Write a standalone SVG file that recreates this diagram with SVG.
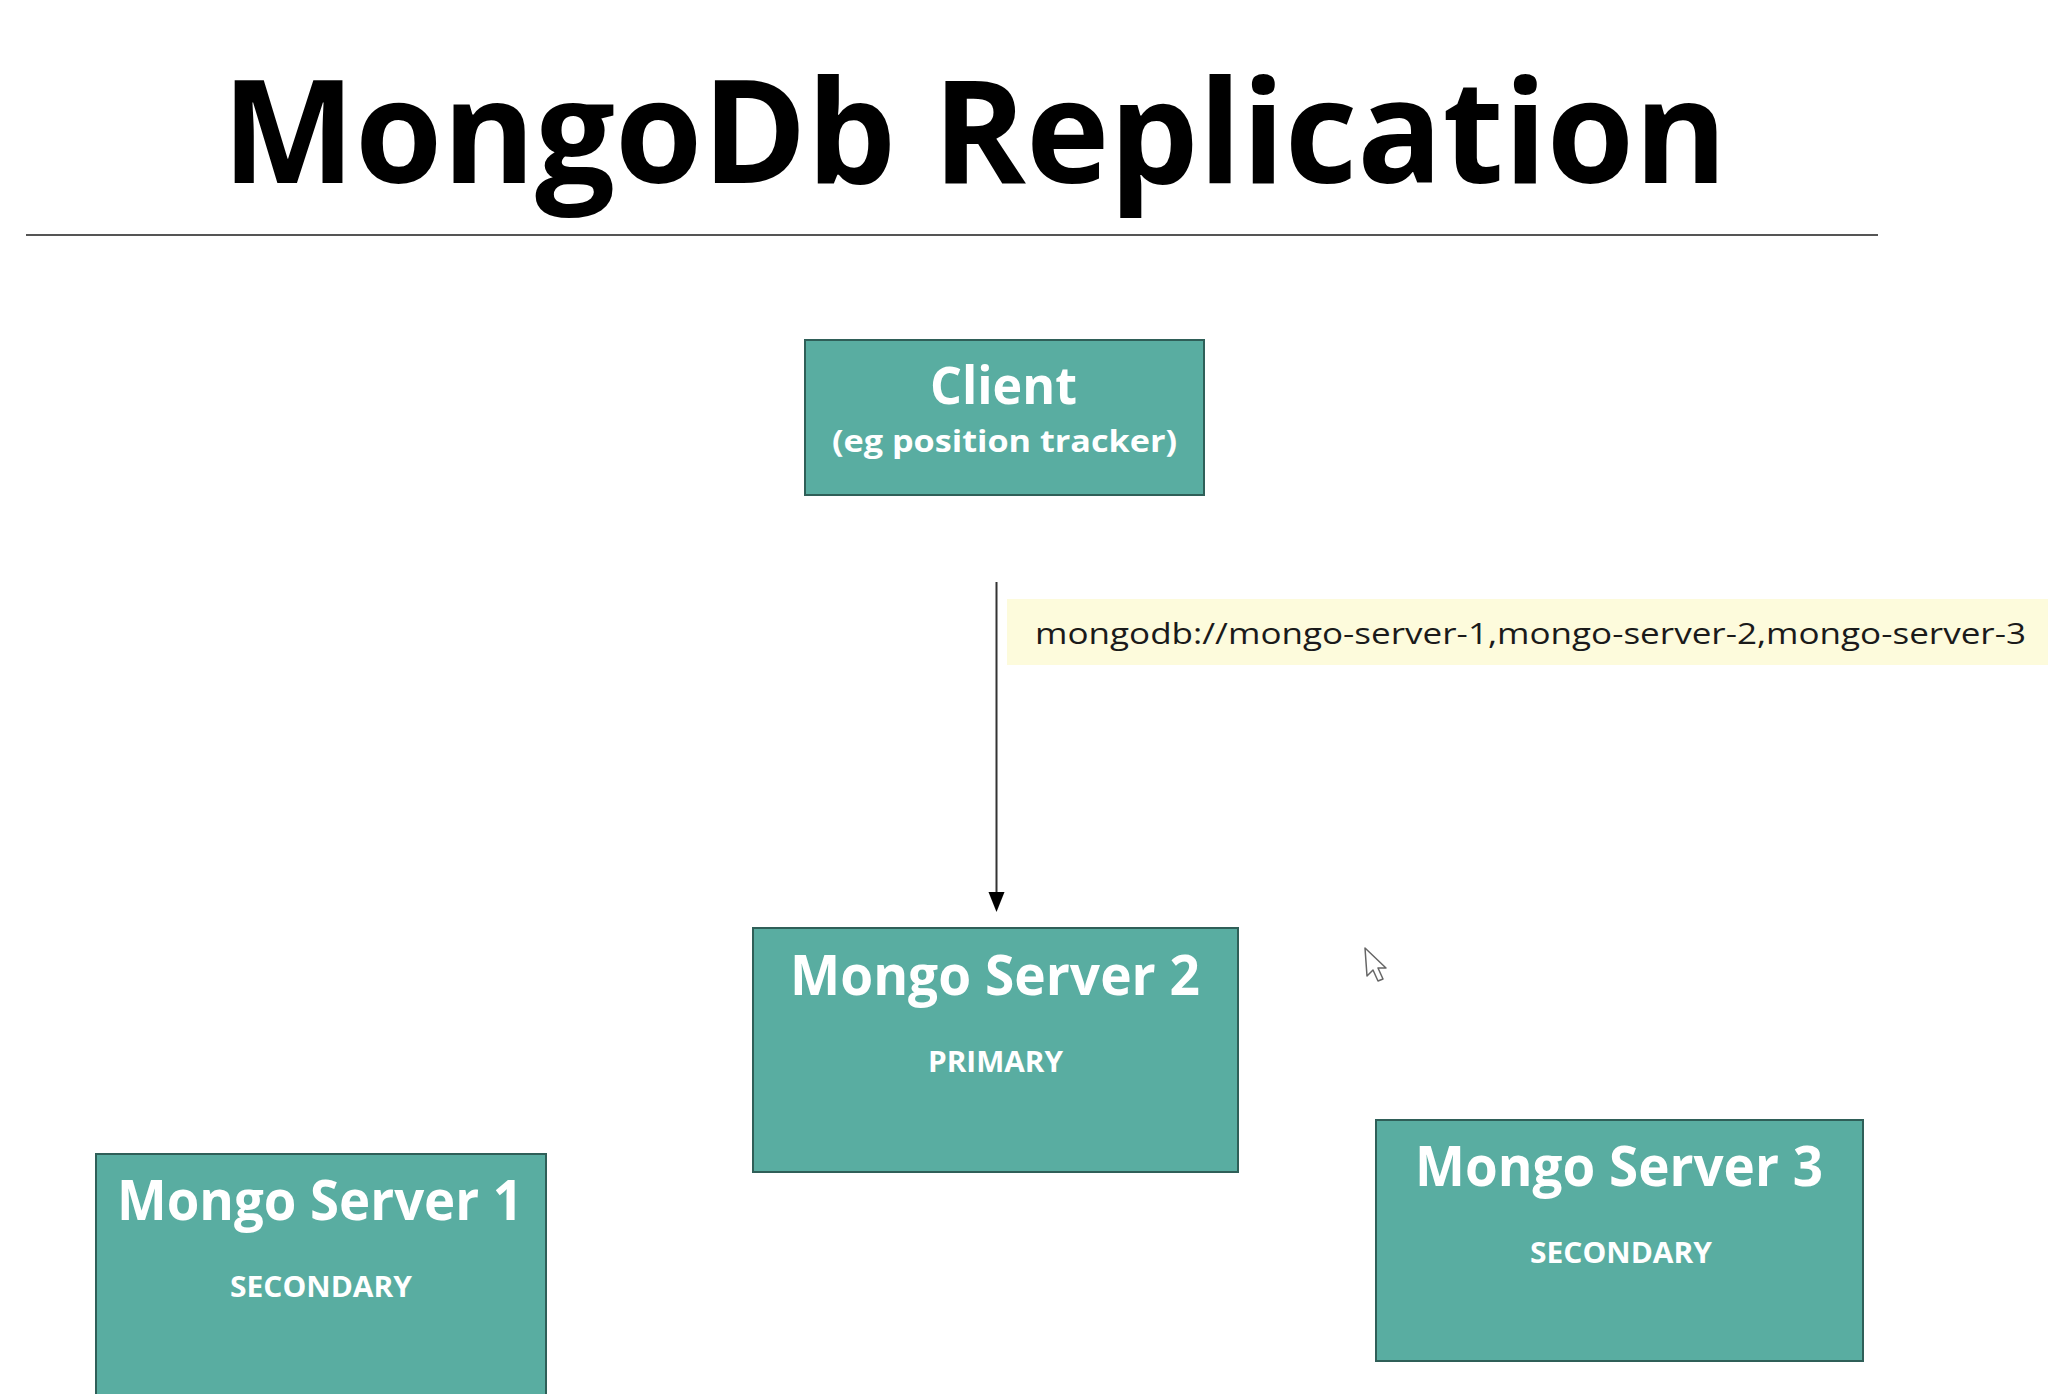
<svg xmlns="http://www.w3.org/2000/svg" width="2048" height="1394" viewBox="0 0 2048 1394">
  <style>
    .box { fill: #59ada1; stroke: #2f5f58; stroke-width: 2; }
    .title { font-family: "Open Sans", "Liberation Sans", sans-serif; font-weight: bold; fill: #000; }
    .head { font-family: "Open Sans", "Liberation Sans", sans-serif; font-weight: bold; fill: #fff; }
    .sub { font-family: "Open Sans", "Liberation Sans", sans-serif; font-weight: bold; fill: #fff; }
    .label { font-family: "Open Sans", "Liberation Sans", sans-serif; fill: #1a1a1a; }
  </style>
  <defs>
    <marker id="arrow" markerWidth="16" markerHeight="20" refX="8" refY="20" orient="auto-start-reverse" markerUnits="userSpaceOnUse" viewBox="0 0 16 20">
      <path d="M0,0 L16,0 L8,20 Z" fill="#000"/>
    </marker>
  </defs>
  <rect width="2048" height="1394" fill="#fff"/>

  <g id="title">
    <text class="title" x="222" y="183" font-size="144" textLength="1505" lengthAdjust="spacingAndGlyphs">MongoDb Replication</text>
    <line x1="26" y1="235" x2="1878" y2="235" stroke="#555" stroke-width="2"/>
  </g>

  <g id="connectors">
    <line x1="996.5" y1="582" x2="996.5" y2="892" stroke="#333" stroke-width="2"/>
    <path d="M988.5,892 L1004.5,892 L996.5,912 Z" fill="#000"/>
  </g>

  <g id="connection-label">
    <rect x="1007" y="599" width="1041" height="66" fill="#fdfbdc"/>
    <text class="label" x="1035" y="644" font-size="30" textLength="991" lengthAdjust="spacingAndGlyphs">mongodb://mongo-server-1,mongo-server-2,mongo-server-3</text>
  </g>

  <g id="client">
    <rect class="box" x="805" y="340" width="399" height="155"/>
    <text class="head" x="930" y="404" font-size="52" textLength="147" lengthAdjust="spacingAndGlyphs">Client</text>
    <text class="sub" x="832" y="452" font-size="30" textLength="345" lengthAdjust="spacingAndGlyphs">(eg position tracker)</text>
  </g>

  <g id="mongo-server-2">
    <rect class="box" x="753" y="928" width="485" height="244"/>
    <text class="head" x="790" y="995" font-size="56" textLength="410" lengthAdjust="spacingAndGlyphs">Mongo Server 2</text>
    <text class="sub" x="928" y="1072" font-size="28" textLength="135" lengthAdjust="spacingAndGlyphs">PRIMARY</text>
  </g>

  <g id="mongo-server-1">
    <rect class="box" x="96" y="1154" width="450" height="260"/>
    <text class="head" x="117" y="1220" font-size="56" textLength="406" lengthAdjust="spacingAndGlyphs">Mongo Server 1</text>
    <text class="sub" x="230" y="1297" font-size="28" textLength="182" lengthAdjust="spacingAndGlyphs">SECONDARY</text>
  </g>

  <g id="mongo-server-3">
    <rect class="box" x="1376" y="1120" width="487" height="241"/>
    <text class="head" x="1415" y="1186" font-size="56" textLength="408" lengthAdjust="spacingAndGlyphs">Mongo Server 3</text>
    <text class="sub" x="1530" y="1263" font-size="28" textLength="182" lengthAdjust="spacingAndGlyphs">SECONDARY</text>
  </g>

  <g id="cursor">
    <path d="M1365,948 L1367,976 L1373,970 L1378,981 L1383,979 L1378,968 L1386,968 Z" fill="#fff" stroke="#666" stroke-width="1.5" stroke-linejoin="round"/>
  </g>
</svg>
